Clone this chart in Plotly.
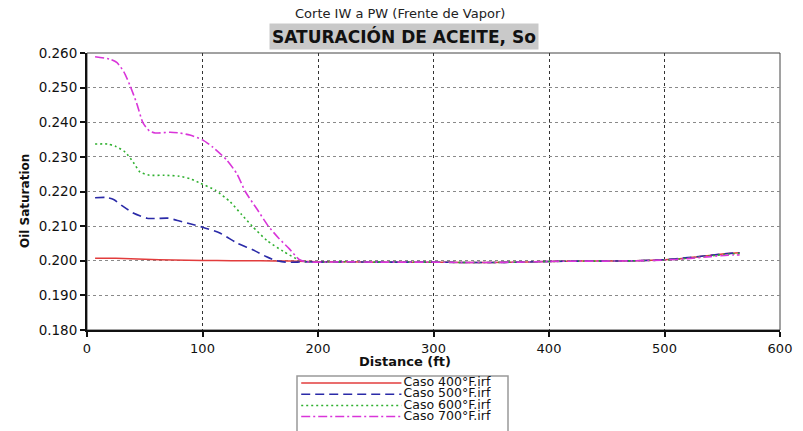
import plotly.graph_objects as go

# ---- Oil saturation profiles along the IW -> PW section ----
series_names = ["Caso 400°F.irf", "Caso 500°F.irf", "Caso 600°F.irf", "Caso 700°F.irf"]

dist_400 = [7, 25, 50, 75, 100, 125, 150, 175, 190, 200, 225, 250, 275, 300, 325, 350,
            375, 400, 425, 450, 475, 500, 520, 540, 555, 565]
so_400 = [0.2007, 0.2007, 0.2004, 0.2002, 0.2001, 0.2000, 0.2000, 0.1999, 0.1998, 0.1997,
          0.1997, 0.1996, 0.1996, 0.1996, 0.1995, 0.1995, 0.1996, 0.1998, 0.1999, 0.1999,
          0.2000, 0.2003, 0.2008, 0.2016, 0.2021, 0.2023]

dist_500 = [7, 16, 23, 30, 40, 52, 60, 70, 80, 90, 100, 115, 130, 144, 155, 163, 172, 182,
            192, 200, 225, 250, 275, 300, 325, 350, 375, 400, 425, 450, 475, 500, 520, 540,
            555, 565]
so_500 = [0.2182, 0.2183, 0.2177, 0.2160, 0.2138, 0.2123, 0.2122, 0.2123, 0.2115, 0.2106,
          0.2097, 0.2080, 0.2051, 0.2031, 0.2012, 0.2001, 0.1996, 0.1996, 0.1997, 0.1996,
          0.1997, 0.1996, 0.1996, 0.1996, 0.1995, 0.1995, 0.1996, 0.1998, 0.1999, 0.1999,
          0.2000, 0.2003, 0.2009, 0.2016, 0.2021, 0.2023]

dist_600 = [7, 18, 25, 33, 40, 46, 54, 67, 80, 90, 98, 111, 124, 134, 143, 156, 170, 183,
            190, 200, 225, 250, 275, 300, 325, 350, 375, 400, 425, 450, 475, 500, 520, 540,
            555, 565]
so_600 = [0.2337, 0.2337, 0.2330, 0.2314, 0.2285, 0.2256, 0.2247, 0.2247, 0.2244, 0.2236,
          0.2224, 0.2204, 0.2170, 0.2133, 0.2100, 0.2058, 0.2027, 0.2003, 0.1997, 0.1996,
          0.1997, 0.1996, 0.1996, 0.1996, 0.1995, 0.1995, 0.1996, 0.1998, 0.1999, 0.1999,
          0.2000, 0.2002, 0.2007, 0.2014, 0.2019, 0.2021]

dist_700 = [7, 20, 26, 32, 37, 43, 48.5, 54, 59, 72, 80, 89, 100, 109, 121, 130, 137, 147,
            157, 166, 175, 184, 190, 200, 225, 250, 275, 300, 325, 350, 375, 400, 425, 450,
            475, 500, 520, 540, 555, 565]
so_700 = [0.2589, 0.2582, 0.2572, 0.2545, 0.2508, 0.2455, 0.2398, 0.2375, 0.2369, 0.2371,
          0.2369, 0.2363, 0.2349, 0.2328, 0.2291, 0.2250, 0.2200, 0.2150, 0.2100, 0.2065,
          0.2035, 0.2003, 0.1997, 0.1996, 0.1997, 0.1996, 0.1996, 0.1996, 0.1995, 0.1995,
          0.1996, 0.1998, 0.1999, 0.1999, 0.2000, 0.2002, 0.2006, 0.2012, 0.2016, 0.2017]

x_ticks = [0, 100, 200, 300, 400, 500, 600]
y_ticks = [0.180, 0.190, 0.200, 0.210, 0.220, 0.230, 0.240, 0.250, 0.260]

title_main = "SATURACIÓN DE ACEITE, So"
title_sub = "Corte IW a PW (Frente de Vapor)"
x_label = "Distance (ft)"
y_label = "Oil Saturation"

# ---- styling ----
FONT = "DejaVu Sans"
W, H = 803, 431
styles = [
    dict(color="#e23c3c", width=1.5, dash="solid"),
    dict(color="#2a2aa8", width=1.6, dash="9px,5px"),
    dict(color="#2fb02f", width=1.6, dash="2px,3px"),
    dict(color="#d935d9", width=1.6, dash="9px,3px,2px,3px"),
]

# plot area in pixels
L, R, T, B = 87, 780, 53, 330
# legend box in pixels
LG_L, LG_R, LG_T = 297, 508, 376
LG_ROW0, LG_STEP = 383, 11.2


def px_x(p):
    return p / W


def px_y(p):
    return 1 - p / H


fig = go.Figure()

data = [(dist_400, so_400), (dist_500, so_500), (dist_600, so_600), (dist_700, so_700)]
for name, (xs, ys), st in zip(series_names, data, styles):
    fig.add_trace(go.Scatter(
        x=xs, y=ys, name=name, mode="lines",
        line=dict(color=st["color"], width=st["width"], dash=st["dash"],
                  shape="spline", smoothing=0.6),
        xaxis="x", yaxis="y", showlegend=False,
    ))

# legend drawn on its own hidden axis pair
for i, (name, st) in enumerate(zip(series_names, styles)):
    fig.add_trace(go.Scatter(
        x=[0.02, 0.495], y=[i, i], mode="lines",
        line=dict(color=st["color"], width=1.5, dash=st["dash"]),
        xaxis="x2", yaxis="y2", showlegend=False, hoverinfo="skip",
    ))
fig.add_trace(go.Scatter(
    x=[0.505] * len(series_names), y=list(range(len(series_names))),
    mode="text", text=series_names, textposition="middle right",
    textfont=dict(family=FONT, size=12.5, color="#111"),
    xaxis="x2", yaxis="y2", showlegend=False, hoverinfo="skip", cliponaxis=False,
))

fig.update_layout(
    width=W, height=H, autosize=False,
    margin=dict(l=0, r=0, t=0, b=0, pad=0, autoexpand=False),
    paper_bgcolor="white", plot_bgcolor="white",
    font=dict(family=FONT, size=13, color="#111"),
    showlegend=False,
    xaxis=dict(
        domain=[px_x(L), px_x(R)], anchor="y", automargin=False,
        range=[0, 600], tickvals=x_ticks,
        ticks="outside", ticklen=5, tickwidth=1.5, tickcolor="#111",
        showline=True, linecolor="#111", linewidth=2,
        showgrid=True, gridcolor="#333", gridwidth=1, griddash="dot",
        zeroline=False, tickfont=dict(family=FONT, size=13, color="#111"),
    ),
    yaxis=dict(
        domain=[px_y(B), px_y(T)], anchor="x", automargin=False,
        range=[0.180, 0.260], tickvals=y_ticks, tickformat=".3f",
        ticks="outside", ticklen=5, tickwidth=1.5, tickcolor="#111",
        showline=True, linecolor="#111", linewidth=2,
        showgrid=True, gridcolor="#8a8a8a", gridwidth=1, griddash="dot",
        zeroline=False, tickfont=dict(family=FONT, size=13.5, color="#111"),
    ),
    xaxis2=dict(domain=[px_x(LG_L), px_x(LG_R)], anchor="y2", range=[0, 1],
                visible=False, fixedrange=True, automargin=False),
    yaxis2=dict(domain=[0, px_y(LG_T)], anchor="x2",
                range=[(H - LG_ROW0) / LG_STEP, -(LG_ROW0 - LG_T) / LG_STEP],
                visible=False, fixedrange=True, automargin=False),
    shapes=[
        # thin frame on top/right of the plot area
        dict(type="rect", xref="x domain", yref="y domain", x0=0, x1=1, y0=0, y1=1,
             line=dict(color="#444", width=1), layer="below"),
        # legend frame
        dict(type="rect", xref="x2 domain", yref="y2 domain", x0=0, x1=1, y0=-0.3, y1=1,
             line=dict(color="#999", width=1.5), fillcolor="white", layer="below"),
    ],
    annotations=[
        dict(text=title_sub, xref="paper", yref="paper", x=px_x(400), y=px_y(13),
             xanchor="center", yanchor="middle", showarrow=False,
             font=dict(family=FONT, size=13, color="#222")),
        dict(text="<b>" + title_main + "</b>", xref="paper", yref="paper",
             x=px_x(404), y=px_y(36), xanchor="center", yanchor="middle",
             showarrow=False, bgcolor="#c9c9c9", borderpad=2,
             font=dict(family=FONT, size=17, color="#111")),
        dict(text="<b>" + x_label + "</b>", xref="paper", yref="paper",
             x=px_x(405), y=px_y(361), xanchor="center", yanchor="middle",
             showarrow=False, font=dict(family=FONT, size=13, color="#111")),
        dict(text="<b>" + y_label + "</b>", xref="paper", yref="paper",
             x=px_x(25), y=px_y(201), xanchor="center", yanchor="middle",
             textangle=-90, showarrow=False,
             font=dict(family=FONT, size=12, color="#111")),
    ],
)

fig.write_html("out.html")
